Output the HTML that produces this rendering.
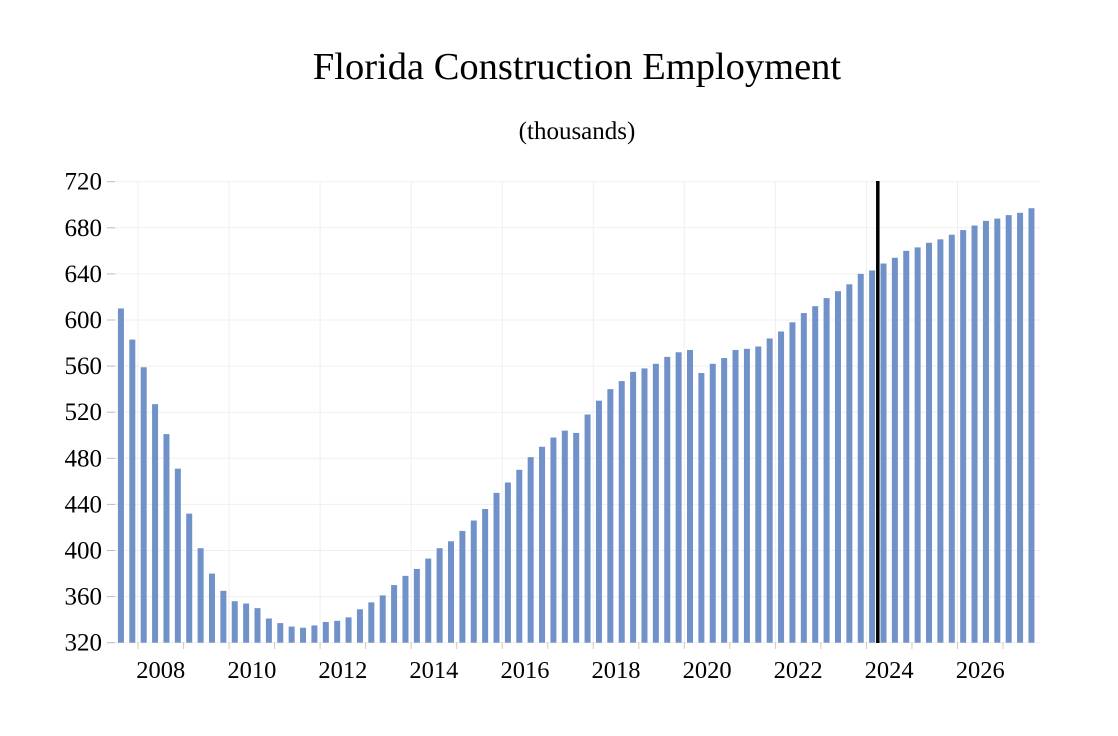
<!DOCTYPE html>
<html><head><meta charset="utf-8"><style>
html,body{margin:0;padding:0;background:#fff;}
svg{display:block;font-family:"Liberation Serif",serif;}
</style></head><body>
<svg id="chart" width="1118" height="736">
<text x="577" y="79" text-anchor="middle" font-size="38.5">Florida Construction Employment</text>
<text x="577" y="139" text-anchor="middle" font-size="25">(thousands)</text>
<g id="grid"></g><g id="bars"></g><g id="axes"></g>
</svg>
<script>
const startYear = 2007.5;
const values = [610,583,559,527,501,471,432,402,380,365,356,354,350,341,337,334,333,335,338,339,342,349,355,361,370,378,384,393,402,408,417,426,
436,450,459,470,481,490,498,504,502,518,530,540,547,555,558,562,568,572,574,554,562,567,574,575,577,
584,590,598,606,612,619,625,631,640,643,649,654,660,663,667,670,674,678,682,686,688,691,693,697];
const yTicks = [320,360,400,440,480,520,560,600,640,680,720];
const xLabels = [2008,2010,2012,2014,2016,2018,2020,2022,2024,2026];
const forecastStart = 2024.25;

const NS="http://www.w3.org/2000/svg";
const y0=642.7, yPx=461/400;
function yScale(v){return y0-(v-320)*yPx;}
const x2008=138, yearW=(1003-138)/19;
function xScale(t){return x2008+(t-2008)*yearW;}
function mk(tag,attrs,parent){const e=document.createElementNS(NS,tag);for(const k in attrs)e.setAttribute(k,attrs[k]);parent.appendChild(e);return e;}
const grid=document.getElementById('grid'),bars=document.getElementById('bars'),axes=document.getElementById('axes');
yTicks.forEach(v=>{
  const y=yScale(v);
  const g=mk('line',{x1:114,x2:1040,y1:y,y2:y,stroke:'#efefef','stroke-width':1},grid);
  
  
  const tk=mk('line',{x1:107,x2:115,y1:y,y2:y,stroke:'#bbb','stroke-width':1},axes);
  
  
  const t=mk('text',{x:102,y:y+8,'text-anchor':'end','font-size':25},axes);
  t.textContent=v;
  
  
});
for(let yr=2008;yr<=2027;yr++){
  const x=xScale(yr);
  if((yr-2008)%2===0){
    const g=mk('line',{x1:x,x2:x,y1:181,y2:642,stroke:'#efefef','stroke-width':1},grid);
    
    
  }
  const tk=mk('line',{x1:x,x2:x,y1:642,y2:649,stroke:'#d8c8b8','stroke-width':1},axes);
  
  
}
xLabels.forEach(yr=>{
  const t=mk('text',{x:xScale(yr+0.5),y:678,'text-anchor':'middle','font-size':24.5},axes);
  t.textContent=yr;
  
  
});
values.forEach((v,i)=>{
  const cx=xScale(startYear+(i+0.5)/4);
  const r=mk('rect',{x:cx-3,y:yScale(v),width:6,height:y0-yScale(v),fill:'#7092c9'},bars);
  
  
});
const fx=xScale(forecastStart);
const fl=mk('line',{x1:fx,x2:fx,y1:181,y2:643,stroke:'#000','stroke-width':3.5},axes);


</script>
</body></html>
